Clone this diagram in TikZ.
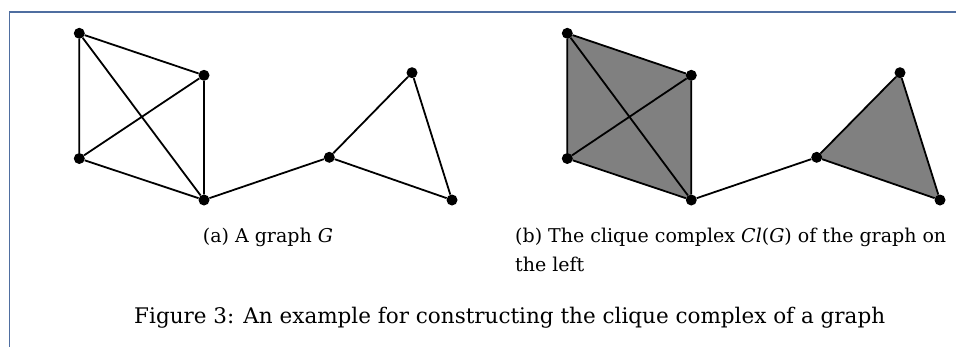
\documentclass[tikz,border=0pt]{standalone}
\usepackage{fontspec}
\setmainfont{DejaVu Serif}
\begin{document}
\begin{tikzpicture}[x=1pt,y=-1pt,
  vdot/.style={circle,fill=black,inner sep=0pt,minimum size=11pt},
  edge/.style={line width=1.8pt,black},
  frameline/.style={line width=1.4pt,color={rgb,255:red,79;green,110;blue,160}},
  captext/.style={anchor=base west,inner sep=0pt,font=\fontsize{19}{29}\selectfont},
  figtext/.style={anchor=base west,inner sep=0pt,font=\fontsize{21.5}{26}\selectfont},
  face/.style={fill={rgb,255:red,128;green,128;blue,128}}]
\useasboundingbox (0,0) rectangle (956,346);
\clip (0,0) rectangle (956,346);
% frame
\coordinate (ftl) at (9.5,12);
\coordinate (ftr) at (960,12);
\coordinate (fbl) at (9.5,350);
\draw[frameline] (ftr) -- (ftl) -- (fbl);
% left graph
\node[vdot] (a1) at (79.3,33.3) {};
\node[vdot] (b1) at (204,75.3) {};
\node[vdot] (c1) at (79.3,158.5) {};
\node[vdot] (d1) at (204,200) {};
\node[vdot] (e1) at (329.3,157.3) {};
\node[vdot] (f1) at (412,72.7) {};
\node[vdot] (h1) at (452,200) {};
\draw[edge] (a1) -- (b1) (a1) -- (c1) (a1) -- (d1) (b1) -- (c1) (b1) -- (d1) (c1) -- (d1)
  (d1) -- (e1) (e1) -- (f1) (e1) -- (h1) (f1) -- (h1);
% right complex
\coordinate (a2) at (567.3,33.3);
\coordinate (b2) at (691.3,75.3);
\coordinate (c2) at (567.3,158.5);
\coordinate (d2) at (691.3,200);
\coordinate (e2) at (816.7,157.3);
\coordinate (f2) at (900,72.7);
\coordinate (h2) at (940,200);
\fill[face] (a2) -- (b2) -- (d2) -- (c2) -- cycle;
\fill[face] (e2) -- (f2) -- (h2) -- cycle;
\node[vdot] (A2) at (a2) {};
\node[vdot] (B2) at (b2) {};
\node[vdot] (C2) at (c2) {};
\node[vdot] (D2) at (d2) {};
\node[vdot] (E2) at (e2) {};
\node[vdot] (F2) at (f2) {};
\node[vdot] (H2) at (h2) {};
\draw[edge] (A2) -- (B2) (A2) -- (C2) (A2) -- (D2) (B2) -- (C2) (B2) -- (D2) (C2) -- (D2)
  (D2) -- (E2) (E2) -- (F2) (E2) -- (H2) (F2) -- (H2);
% captions
\node[captext] (capa) at (202.7,242.5) {(a) A graph {\itshape G}};
\node[captext] (capb) at (515,242.5) {(b) The clique complex {\itshape Cl}({\itshape G}) of the graph on};
\node[captext] (capb2) at (515,271) {the left};
\node[figtext] (fig) at (134,323) {Figure 3: An example for constructing the clique complex of a graph};
\end{tikzpicture}
\end{document}
